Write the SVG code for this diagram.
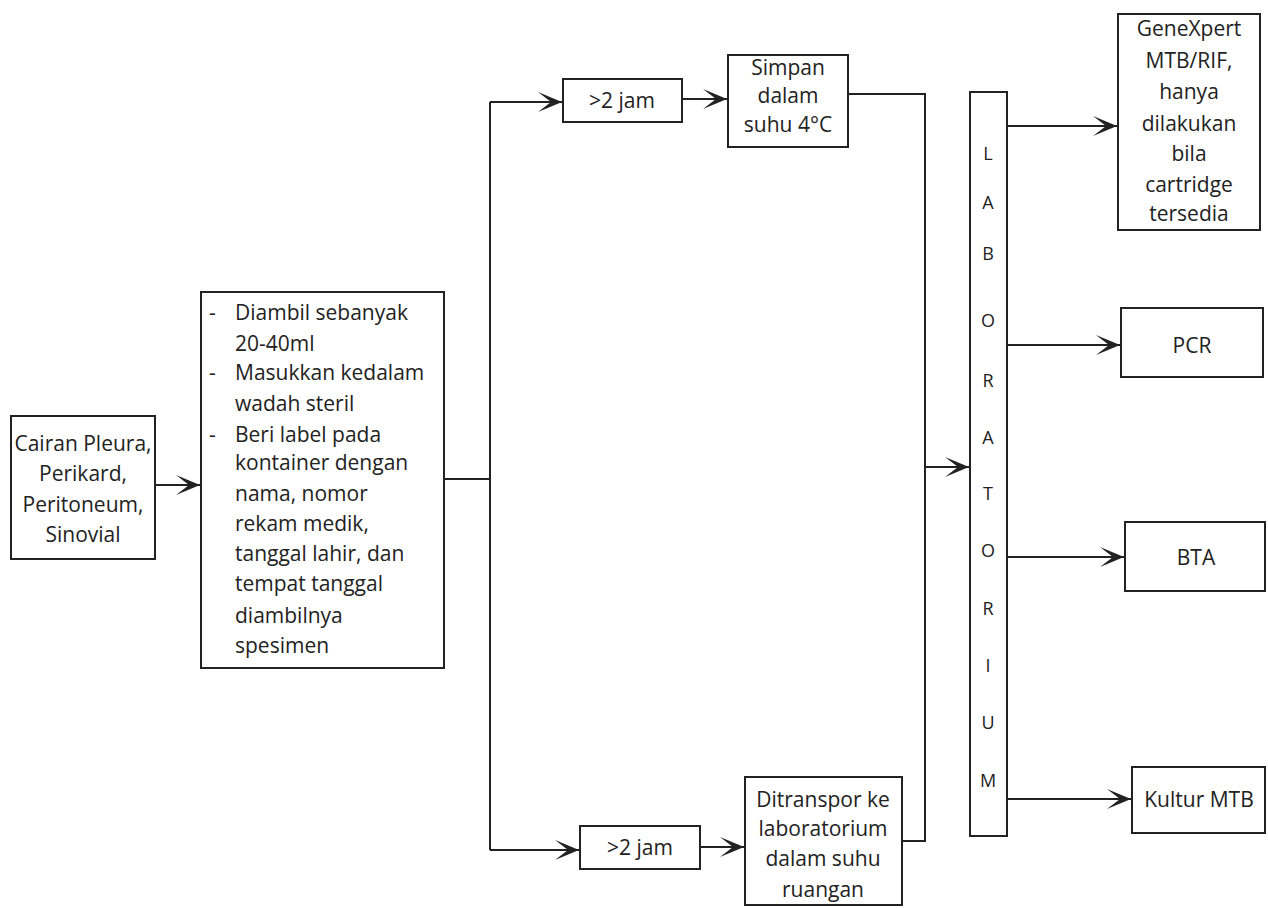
<svg xmlns="http://www.w3.org/2000/svg" width="1268" height="908" viewBox="0 0 1268 908">
<style>
.box{fill:#fff;stroke:#222;stroke-width:2}
.t{font-family:"Open Sans","Noto Sans",sans-serif;font-size:21px;fill:#222}
.c{text-anchor:middle}
.lab{font-family:"Open Sans","Noto Sans",sans-serif;font-size:18px;fill:#222;text-anchor:middle}
.ln{fill:none;stroke:#222;stroke-width:2}
</style>
<defs>
<marker id="ah" viewBox="0 0 24 20" markerWidth="24" markerHeight="20" refX="24" refY="10" orient="auto" markerUnits="userSpaceOnUse">
<path d="M0,0 L24,10 L0,20 L13,10 Z" fill="#222"/>
</marker>
</defs>
<rect width="1268" height="908" fill="#fff"/>

<g id="connectors">
<path class="ln" d="M155,485 L200,485" marker-end="url(#ah)"/>
<path class="ln" d="M444,479 L490,479"/>
<path class="ln" d="M490,102 L490,850"/>
<path class="ln" d="M490,102 L562,102" marker-end="url(#ah)"/>
<path class="ln" d="M490,850 L579,850" marker-end="url(#ah)"/>
<path class="ln" d="M682,99 L727,99" marker-end="url(#ah)"/>
<path class="ln" d="M700,847 L744,847" marker-end="url(#ah)"/>
<path class="ln" d="M848,94 L925,94 L925,841 L902,841"/>
<path class="ln" d="M925,467 L969,467" marker-end="url(#ah)"/>
<path class="ln" d="M1007,126 L1117,126" marker-end="url(#ah)"/>
<path class="ln" d="M1007,345 L1120,345" marker-end="url(#ah)"/>
<path class="ln" d="M1008,557 L1124,557" marker-end="url(#ah)"/>
<path class="ln" d="M1008,799 L1131,799" marker-end="url(#ah)"/>
</g>

<g id="cairan">
<rect class="box" x="11" y="416" width="144" height="143"/>
<text class="t c" x="83" y="451">Cairan Pleura,</text>
<text class="t c" x="83" y="481">Perikard,</text>
<text class="t c" x="83" y="512">Peritoneum,</text>
<text class="t c" x="83" y="542">Sinovial</text>
</g>

<g id="prosedur">
<rect class="box" x="201" y="292" width="243" height="376"/>
<text class="t" x="209" y="320">-</text>
<text class="t" x="235" y="320">Diambil sebanyak</text>
<text class="t" x="235" y="351">20-40ml</text>
<text class="t" x="209" y="380">-</text>
<text class="t" x="235" y="380">Masukkan kedalam</text>
<text class="t" x="235" y="411">wadah steril</text>
<text class="t" x="209" y="442">-</text>
<text class="t" x="235" y="442">Beri label pada</text>
<text class="t" x="235" y="470">kontainer dengan</text>
<text class="t" x="235" y="501">nama, nomor</text>
<text class="t" x="235" y="531">rekam medik,</text>
<text class="t" x="235" y="561">tanggal lahir, dan</text>
<text class="t" x="235" y="591">tempat tanggal</text>
<text class="t" x="235" y="623">diambilnya</text>
<text class="t" x="235" y="653">spesimen</text>
</g>

<g id="jam-atas">
<rect class="box" x="563" y="79" width="119" height="43"/>
<text class="t c" x="622" y="108">&gt;2 jam</text>
</g>

<g id="simpan">
<rect class="box" x="728" y="55" width="120" height="92"/>
<text class="t c" x="788" y="75">Simpan</text>
<text class="t c" x="788" y="103">dalam</text>
<text class="t c" x="788" y="132">suhu 4°C</text>
</g>

<g id="jam-bawah">
<rect class="box" x="580" y="826" width="120" height="43"/>
<text class="t c" x="640" y="855">&gt;2 jam</text>
</g>

<g id="ditranspor">
<rect class="box" x="745" y="777" width="157" height="128"/>
<text class="t c" x="823" y="807">Ditranspor ke</text>
<text class="t c" x="823" y="836">laboratorium</text>
<text class="t c" x="823" y="866">dalam suhu</text>
<text class="t c" x="823" y="897">ruangan</text>
</g>

<g id="laboratorium">
<rect class="box" x="970" y="92" width="37" height="744"/>
<text class="lab" x="988" y="160">L</text>
<text class="lab" x="988" y="209">A</text>
<text class="lab" x="988" y="260">B</text>
<text class="lab" x="988" y="327">O</text>
<text class="lab" x="988" y="387">R</text>
<text class="lab" x="988" y="444">A</text>
<text class="lab" x="988" y="500">T</text>
<text class="lab" x="988" y="557">O</text>
<text class="lab" x="988" y="615">R</text>
<text class="lab" x="988" y="672">I</text>
<text class="lab" x="988" y="729">U</text>
<text class="lab" x="988" y="787">M</text>
</g>

<g id="genexpert">
<rect class="box" x="1118" y="14" width="142" height="216"/>
<text class="t c" x="1189" y="36">GeneXpert</text>
<text class="t c" x="1189" y="68">MTB/RIF,</text>
<text class="t c" x="1189" y="99">hanya</text>
<text class="t c" x="1189" y="131">dilakukan</text>
<text class="t c" x="1189" y="161">bila</text>
<text class="t c" x="1189" y="192">cartridge</text>
<text class="t c" x="1189" y="221">tersedia</text>
</g>

<g id="pcr">
<rect class="box" x="1121" y="308" width="142" height="69"/>
<text class="t c" x="1192" y="353">PCR</text>
</g>

<g id="bta">
<rect class="box" x="1125" y="522" width="140" height="69"/>
<text class="t c" x="1196" y="565">BTA</text>
</g>

<g id="kultur">
<rect class="box" x="1132" y="767" width="133" height="66"/>
<text class="t c" x="1199" y="807">Kultur MTB</text>
</g>
</svg>
